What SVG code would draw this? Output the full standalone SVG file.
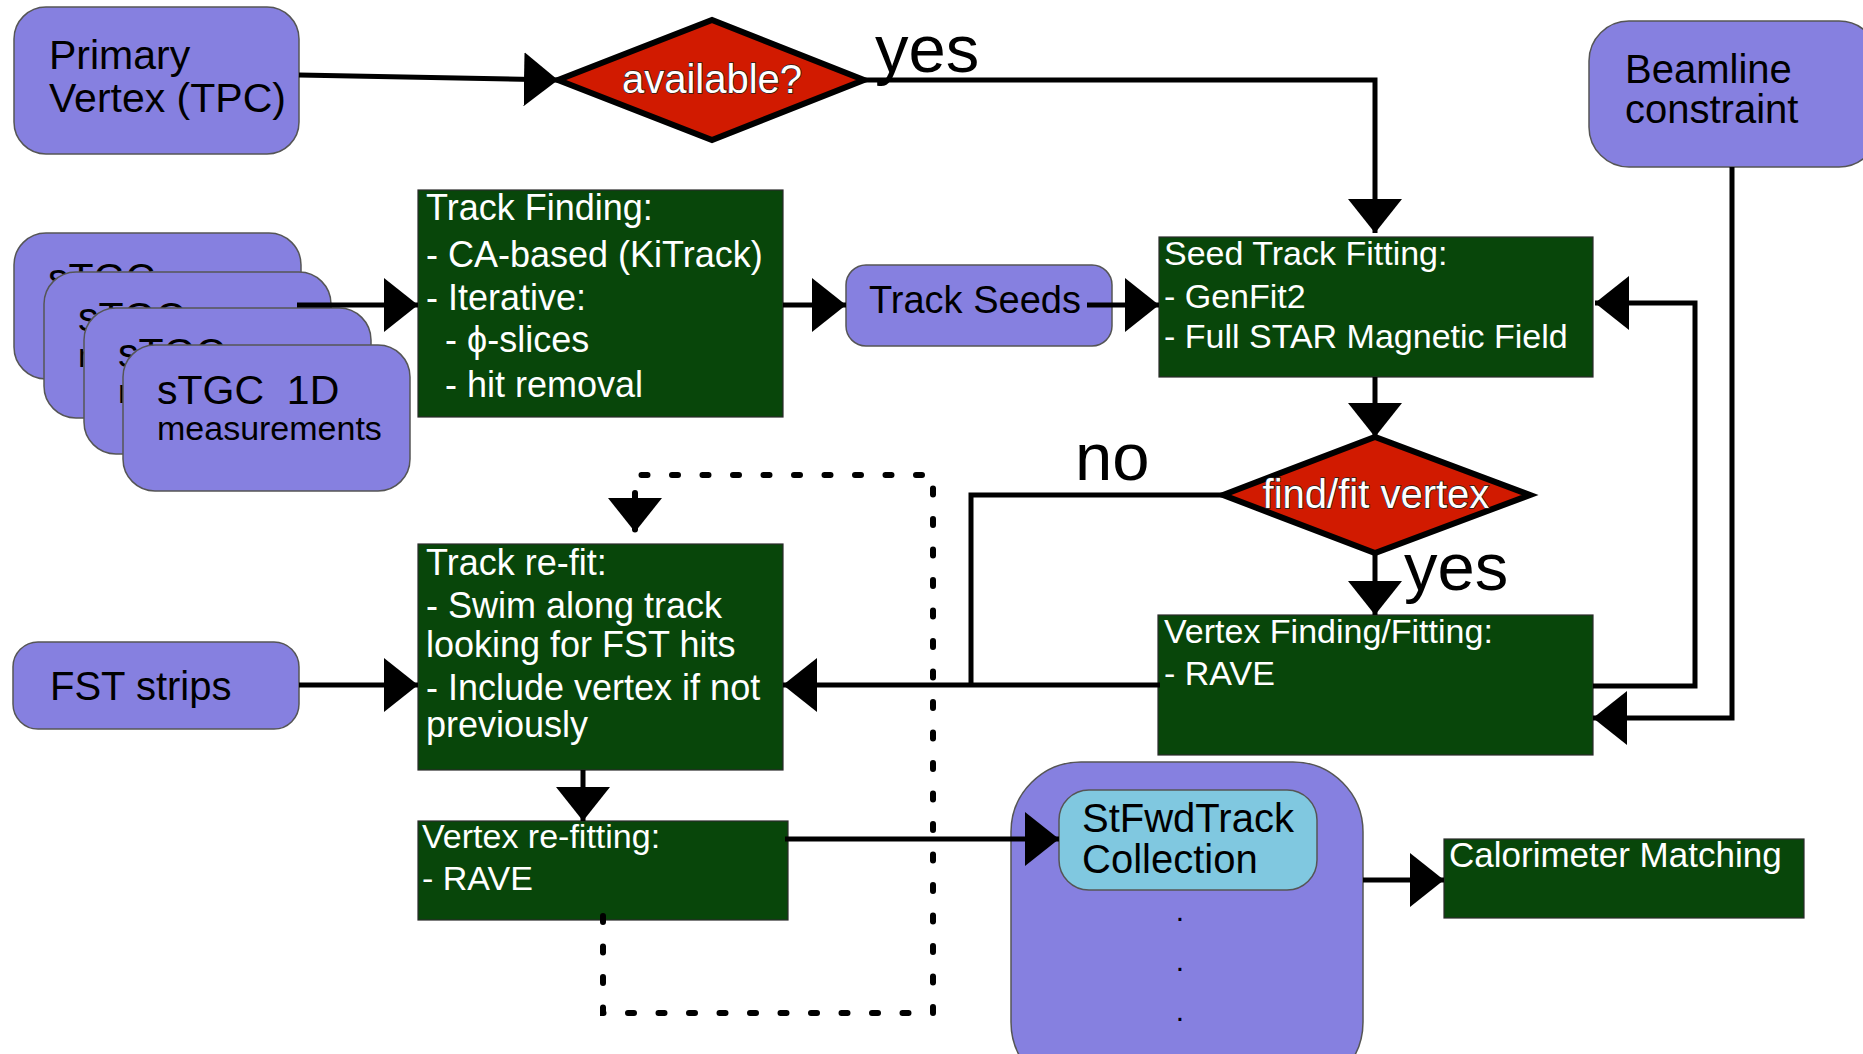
<svg xmlns="http://www.w3.org/2000/svg" width="1863" height="1054" viewBox="0 0 1863 1054">
  <defs>
    <style>
      text { font-family: "Liberation Sans", Arial, sans-serif; }
      .src { fill: #8680e0; stroke: #555; stroke-width: 1.5; }
      .step { fill: #08460a; stroke: #2a2a2a; stroke-width: 1.2; }
      .coll { fill: #80c8e0; stroke: #555; stroke-width: 1.5; }
      .dec { fill: #d11a00; stroke: #000; stroke-width: 6; stroke-linejoin: miter; }
      .dark { fill: #000; }
      .light { fill: #fff; }
      .dectxt { fill: #fff; stroke: #222; stroke-width: 1.4; paint-order: stroke; text-anchor: middle; font-size: 40px; }
      .lbl { fill: #000; font-size: 67px; }
      .wire { fill: none; stroke: #000; stroke-width: 5; stroke-linejoin: miter; marker-end: url(#head); }
      .plain { fill: none; stroke: #000; stroke-width: 5; }
      .dots { fill: none; stroke: #000; stroke-width: 6; stroke-linecap: round; stroke-dasharray: 6 24.5; marker-end: url(#head); }
    </style>
    <marker id="head" markerUnits="userSpaceOnUse" markerWidth="35" markerHeight="54" refX="34" refY="27" orient="auto" viewBox="0 0 35 54">
      <path d="M0,0 L34,27 L0,54 Z" fill="#000"/>
    </marker>
  </defs>

  <!-- inputs -->
  <g id="primary-vertex">
    <rect class="src" x="14" y="7" width="285" height="147" rx="32"/>
    <text class="dark" font-size="41" x="49" y="69">Primary</text>
    <text class="dark" font-size="41" x="49" y="112">Vertex (TPC)</text>
  </g>

  <g id="beamline">
    <rect class="src" x="1589" y="21" width="290" height="146" rx="40"/>
    <text class="dark" font-size="40" x="1625" y="83">Beamline</text>
    <text class="dark" font-size="40" x="1625" y="123">constraint</text>
  </g>

  <!-- stacked sTGC planes, only the front one fully visible -->
  <g id="stgc-1">
    <rect class="src" x="14" y="233" width="287" height="146" rx="32"/>
    <text class="dark" font-size="41" x="48" y="292">sTGC</text>
    <text class="dark" font-size="34" x="48" y="328">measurements</text>
  </g>
  <g id="stgc-2">
    <rect class="src" x="44" y="272" width="287" height="146" rx="32"/>
    <text class="dark" font-size="41" x="78" y="331">sTGC</text>
    <text class="dark" font-size="34" x="78" y="367">measurements</text>
  </g>
  <g id="stgc-3">
    <rect class="src" x="84" y="308" width="287" height="146" rx="32"/>
    <text class="dark" font-size="41" x="118" y="367">sTGC</text>
    <text class="dark" font-size="34" x="118" y="403">measurements</text>
  </g>
  <g id="stgc-4">
    <rect class="src" x="123" y="345" width="287" height="146" rx="32"/>
    <text class="dark" font-size="41" x="157" y="404" xml:space="preserve">sTGC  1D</text>
    <text class="dark" font-size="34" x="157" y="440">measurements</text>
  </g>

  <g id="fst-strips">
    <rect class="src" x="13" y="642" width="286" height="87" rx="25"/>
    <text class="dark" font-size="40" x="50" y="700">FST strips</text>
  </g>

  <!-- decisions -->
  <g id="available">
    <polygon class="dec" points="558,80 712,20 864,80 712,140"/>
    <text class="dectxt" x="712" y="93">available?</text>
    <text class="lbl" x="875" y="72">yes</text>
  </g>

  <g id="find-fit-vertex">
    <polygon class="dec" points="1223,495 1375,437 1530,495 1375,553"/>
    <text class="dectxt" x="1376" y="508">find/fit vertex</text>
    <text class="lbl" x="1075" y="480">no</text>
    <text class="lbl" x="1404" y="590">yes</text>
  </g>

  <!-- processing steps -->
  <g id="track-finding">
    <rect class="step" x="418" y="190" width="365" height="227"/>
    <g class="light" font-size="36">
      <text x="426" y="220">Track Finding:</text>
      <text x="426" y="267">- CA-based (KiTrack)</text>
      <text x="426" y="310">- Iterative:</text>
      <text x="445" y="352">- ϕ-slices</text>
      <text x="445" y="397">- hit removal</text>
    </g>
  </g>

  <g id="track-seeds">
    <rect class="src" x="846" y="265" width="266" height="81" rx="20"/>
    <text class="dark" font-size="38" x="869" y="313">Track Seeds</text>
  </g>

  <g id="seed-track-fitting">
    <rect class="step" x="1159" y="237" width="434" height="140"/>
    <g class="light" font-size="34">
      <text x="1164" y="265">Seed Track Fitting:</text>
      <text x="1164" y="308">- GenFit2</text>
      <text x="1164" y="348">- Full STAR Magnetic Field</text>
    </g>
  </g>

  <g id="vertex-finding">
    <rect class="step" x="1158" y="615" width="435" height="140"/>
    <g class="light" font-size="34">
      <text x="1164" y="643">Vertex Finding/Fitting:</text>
      <text x="1164" y="685">- RAVE</text>
    </g>
  </g>

  <g id="track-refit">
    <rect class="step" x="418" y="544" width="365" height="226"/>
    <g class="light" font-size="36">
      <text x="426" y="575">Track re-fit:</text>
      <text x="426" y="618">- Swim along track</text>
      <text x="426" y="657">looking for FST hits</text>
      <text x="426" y="700">- Include vertex if not</text>
      <text x="426" y="737">previously</text>
    </g>
  </g>

  <g id="vertex-refitting">
    <rect class="step" x="418" y="821" width="370" height="99"/>
    <g class="light" font-size="34">
      <text x="422" y="848">Vertex re-fitting:</text>
      <text x="422" y="890">- RAVE</text>
    </g>
  </g>

  <!-- output collection -->
  <g id="output-container">
    <rect class="src" x="1011" y="762" width="352" height="330" rx="70"/>
    <text class="dark" font-size="30" x="1180" y="921" text-anchor="middle">.</text>
    <text class="dark" font-size="30" x="1180" y="971" text-anchor="middle">.</text>
    <text class="dark" font-size="30" x="1180" y="1021" text-anchor="middle">.</text>
  </g>

  <g id="stfwdtrack-collection">
    <rect class="coll" x="1059" y="790" width="258" height="100" rx="30"/>
    <text class="dark" font-size="40" x="1082" y="832">StFwdTrack</text>
    <text class="dark" font-size="40" x="1082" y="873">Collection</text>
  </g>

  <g id="calorimeter-matching">
    <rect class="step" x="1444" y="839" width="360" height="79"/>
    <text class="light" font-size="35" x="1449" y="867">Calorimeter Matching</text>
  </g>

  <!-- connectors -->
  <g id="connectors">
    <path class="wire" d="M299,75 L558,80"/>
    <path class="wire" d="M864,80 H1375 V233"/>
    <path class="wire" d="M297,305 H418"/>
    <path class="wire" d="M783,305 H846"/>
    <path class="wire" d="M1087,305 H1159"/>
    <path class="wire" d="M1375,377 V437"/>
    <path class="wire" d="M1375,553 V615"/>
    <path class="plain" d="M1223,495 H971 V685"/>
    <path class="wire" d="M1160,685 H783"/>
    <path class="wire" d="M1593,686 H1695 V303 H1595"/>
    <path class="wire" d="M1732,167 V718 H1593"/>
    <path class="wire" d="M299,685 H418"/>
    <path class="wire" d="M583,770 V821"/>
    <path class="wire" d="M785,839 H1059"/>
    <path class="wire" d="M1363,880 H1444"/>
    <path class="dots" d="M603,916 V1013 H933 V475 H635 V532"/>
  </g>
</svg>
